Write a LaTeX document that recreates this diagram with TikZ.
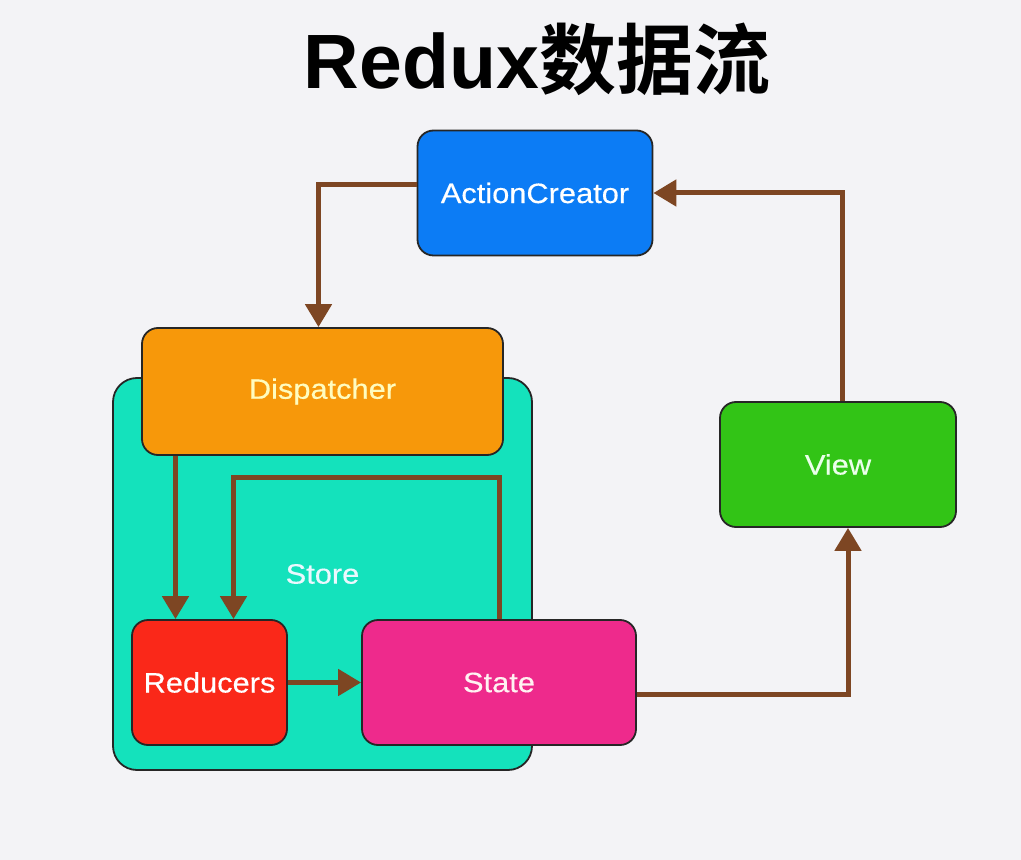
\documentclass[tikz,border=0pt]{standalone}
\usepackage{fontspec}
\setmainfont{Liberation Sans}
\newfontfamily\boxfont{Liberation Sans}[FakeStretch=1.1, FakeBold=0.4]
\newfontfamily\cjk{Noto Sans CJK SC}[BoldFont={* Bold}]
\usepackage{tikz}
\usetikzlibrary{arrows.meta, positioning}
\definecolor{bgcol}{RGB}{243,243,246}
\definecolor{acblue}{RGB}{12,124,245}
\definecolor{disporange}{RGB}{247,152,10}
\definecolor{storeteal}{RGB}{20,226,188}
\definecolor{redred}{RGB}{250,40,25}
\definecolor{statepink}{RGB}{238,42,140}
\definecolor{viewgreen}{RGB}{50,196,22}
\definecolor{flowbrown}{RGB}{125,70,35}
\tikzstyle{box} = [rectangle, rounded corners=8pt, 
minimum height=62.5pt,
text centered, 
draw=black!85, 
line width=0.9pt,
font=\boxfont\fontsize{14}{17}\selectfont]
\tikzstyle{title} = [
font=\bfseries\fontsize{38.5}{44}\selectfont
]
\tikzstyle{arrow} = [line width=2.5pt, draw=flowbrown, 
-{Triangle[width=13pt, length=11.5pt]}]

\begin{document}
\begin{tikzpicture}[node distance=2cm, auto]
		\fill [bgcol] (0,0) rectangle (510.5pt,-430pt);
		\useasboundingbox (0,0) rectangle (510.5pt,-430pt);
		\node (title) [title] at (268.5pt,-29.5pt) {Redux{\cjk\bfseries 数据流}};
		\node (ac) [box, minimum width=117.5pt, fill=acblue, text=white] at (267.5pt,-96.5pt) {ActionCreator};
		\node (store) [box, minimum width=209.5pt, minimum height=196pt, rounded corners=12pt, fill=storeteal, text=cyan!8] at (161.25pt,-287pt) {Store};
		\node (disp) [box, minimum width=180.5pt, minimum height=63.5pt, fill=disporange, text=yellow!25, below of=ac, node distance=99.25pt, xshift=-106.25pt] {Dispatcher};
		\node (red) [box, minimum width=77.5pt, fill=redred, text=white, below of=disp, node distance=145.5pt, xshift=-56.5pt] {Reducers};
		\node (state) [box, minimum width=137pt, fill=statepink, text=pink!20, right of=red, node distance=144.75pt] {State};
		\node (view) [box, minimum width=118pt, fill=viewgreen, text=green!8, below of=ac, node distance=135.75pt, xshift=151.5pt] {View};
	
		\draw [arrow] ([yshift=4pt]ac.west) -| ([xshift=-2pt]disp.north);
		\draw [arrow] ([xshift=2pt]view.north) |- (ac.east);
		\draw [arrow] ([yshift=-6pt]state.east) -| ([xshift=5pt]view.south);
		\draw [arrow] (red) -- (state);
	
		\coordinate (r1) at ([xshift=-17pt]red.north);
		\draw [arrow] (r1 |- disp.south) -- (r1);
		\draw [arrow] (state.north) -- ++(0,71pt) -| ([xshift=12pt]red.north);
	\end{tikzpicture}
\end{document}
